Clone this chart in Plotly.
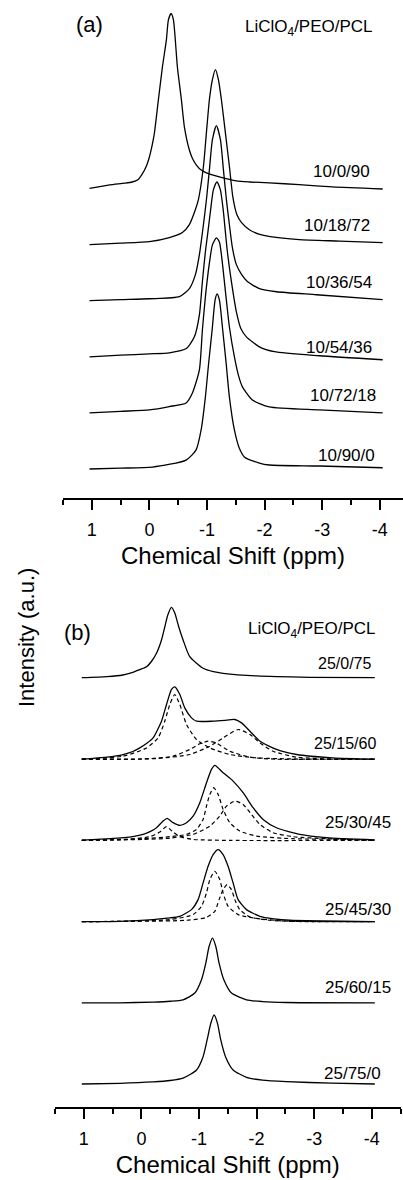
import plotly.graph_objects as go

# ---------------------------------------------------------------------------
# 7Li NMR spectra of LiClO4/PEO/PCL blends (intensity normalised per spectrum)
# ---------------------------------------------------------------------------

# Panel (a): LiClO4 content 10
labels_a = ["10/0/90", "10/18/72", "10/36/54", "10/54/36", "10/72/18", "10/90/0"]

ppm_10_0_90 = [1.04, 0.69, 0.43, 0.3, 0.2, 0.12, 0.05, 0.0, -0.05, -0.087, -0.156, -0.226,
               -0.295, -0.33, -0.377, -0.417, -0.486, -0.556, -0.608, -0.694, -0.75, -0.816,
               -0.9, -0.99, -1.215, -1.51, -1.74, -2.08, -2.6, -3.18, -4.05]
int_10_0_90 = [0.0, 0.02, 0.03, 0.037, 0.05, 0.085, 0.13, 0.18, 0.25, 0.317, 0.506, 0.694,
               0.849, 0.963, 1.0, 0.963, 0.694, 0.506, 0.351, 0.22, 0.17, 0.134,
               0.105, 0.089, 0.066, 0.043, 0.037, 0.032, 0.022, 0.009, -0.003]

ppm_10_18_72 = [1.04, 0.5, 0.0, -0.347, -0.573, -0.694, -0.799, -0.851, -0.938, -0.99, -1.042,
                -1.094, -1.146, -1.198, -1.25, -1.319, -1.389, -1.45, -1.52, -1.6, -1.736,
                -1.9, -2.1, -2.6, -3.3, -4.05]
int_10_18_72 = [0.0, 0.008, 0.017, 0.04, 0.069, 0.114, 0.2, 0.257, 0.446, 0.64, 0.829,
                0.943, 1.0, 0.943, 0.829, 0.64, 0.446, 0.27, 0.17, 0.125, 0.085,
                0.06, 0.045, 0.028, 0.02, 0.011]

ppm_10_36_54 = [1.04, 0.5, 0.0, -0.521, -0.694, -0.799, -0.868, -0.938, -0.99, -1.042, -1.094,
                -1.163, -1.233, -1.285, -1.337, -1.389, -1.441, -1.51, -1.6, -1.701, -1.91,
                -2.205, -2.9, -4.05]
int_10_36_54 = [0.0, 0.006, 0.011, 0.023, 0.069, 0.149, 0.263, 0.434, 0.577, 0.749, 0.92,
                1.0, 0.92, 0.749, 0.577, 0.434, 0.303, 0.206, 0.15, 0.109, 0.069,
                0.051, 0.034, 0.006]

ppm_10_54_36 = [1.04, 0.5, 0.0, -0.347, -0.642, -0.781, -0.868, -0.92, -0.972, -1.016, -1.059,
                -1.111, -1.172, -1.233, -1.285, -1.319, -1.354, -1.424, -1.51, -1.59, -1.684,
                -1.91, -2.17, -2.95, -4.05]
int_10_54_36 = [0.0, 0.009, 0.017, 0.023, 0.047, 0.114, 0.24, 0.429, 0.6, 0.714, 0.829,
                0.954, 1.0, 0.954, 0.829, 0.714, 0.6, 0.429, 0.257, 0.16, 0.114,
                0.057, 0.029, 0.006, -0.017]

ppm_10_72_18 = [1.04, 0.5, 0.0, -0.347, -0.637, -0.747, -0.868, -0.92, -0.972, -1.042, -1.094,
                -1.163, -1.215, -1.267, -1.33, -1.389, -1.476, -1.55, -1.615, -1.788, -2.08,
                -2.95, -4.05]
int_10_72_18 = [0.0, 0.009, 0.017, 0.036, 0.057, 0.114, 0.246, 0.474, 0.663, 0.857, 0.96,
                1.0, 0.977, 0.857, 0.663, 0.491, 0.32, 0.21, 0.149, 0.074, 0.034,
                0.017, 0.0]

ppm_10_90_0 = [1.04, 0.5, -0.052, -0.637, -0.811, -0.898, -0.972, -1.029, -1.089, -1.141,
               -1.175, -1.215, -1.273, -1.332, -1.389, -1.476, -1.56, -1.649, -1.91, -2.08,
               -2.95, -4.05]
int_10_90_0 = [0.0, 0.005, 0.011, 0.051, 0.109, 0.223, 0.411, 0.606, 0.794, 0.966,
               1.0, 0.966, 0.794, 0.606, 0.411, 0.223, 0.12, 0.069, 0.034, 0.023,
               0.017, 0.007]

# Panel (b): LiClO4 content 25, measured spectra
labels_b = ["25/0/75", "25/15/60", "25/30/45", "25/45/30", "25/60/15", "25/75/0"]

ppm_25_0_75 = [1.035, 0.6, 0.323, 0.15, 0.028, -0.089, -0.18, -0.262, -0.349, -0.406, -0.458,
               -0.523, -0.58, -0.649, -0.724, -0.84, -1.071, -1.25, -1.418, -1.998, -2.924,
               -4.052]
int_25_0_75 = [0.004, 0.02, 0.043, 0.08, 0.121, 0.161, 0.243, 0.353, 0.543, 0.729, 0.9,
               1.01, 0.929, 0.729, 0.543, 0.304, 0.139, 0.09, 0.067, 0.029, 0.01,
               0.004]

ppm_25_15_60 = [1.035, 0.6, 0.318, 0.15, 0.028, -0.1, -0.203, -0.349, -0.436, -0.523, -0.58,
                -0.667, -0.753, -0.87, -0.957, -1.245, -1.477, -1.622, -1.738, -1.885,
                -2.059, -2.345, -2.693, -3.323, -4.052]
int_25_15_60 = [0.0, 0.03, 0.067, 0.11, 0.161, 0.23, 0.304, 0.543, 0.781, 0.996, 1.033,
                0.924, 0.733, 0.59, 0.543, 0.543, 0.557, 0.567, 0.519, 0.4,
                0.257, 0.139, 0.067, 0.019, 0.0]

ppm_25_30_45 = [1.035, 0.549, 0.3, 0.15, -0.03, -0.15, -0.262, -0.377, -0.446, -0.55, -0.667,
                -0.783, -0.898, -1.014, -1.13, -1.217, -1.274, -1.419, -1.592, -1.766,
                -1.939, -2.113, -2.345, -2.75, -3.214, -4.052]
int_25_30_45 = [0.004, 0.024, 0.04, 0.055, 0.086, 0.125, 0.181, 0.276, 0.314, 0.253, 0.214,
                0.253, 0.347, 0.539, 0.824, 1.014, 1.071, 0.967, 0.847, 0.681,
                0.467, 0.3, 0.181, 0.086, 0.039, 0.007]

ppm_25_45_30 = [1.035, 0.375, -0.203, -0.45, -0.667, -0.87, -0.984, -1.071, -1.158, -1.245,
                -1.332, -1.418, -1.505, -1.592, -1.679, -1.825, -2.056, -2.3, -2.576, -4.052]
int_25_45_30 = [0.0, 0.004, 0.029, 0.05, 0.076, 0.171, 0.314, 0.553, 0.79, 0.957,
                1.029, 0.957, 0.79, 0.553, 0.314, 0.171, 0.076, 0.04, 0.019, 0.0]

ppm_25_60_15 = [1.035, 0.375, -0.203, -0.5, -0.724, -0.927, -1.043, -1.118, -1.175, -1.234,
                -1.292, -1.349, -1.431, -1.564, -1.825, -2.1, -2.519, -4.052]
int_25_60_15 = [0.0, 0.0, 0.01, 0.022, 0.043, 0.139, 0.329, 0.567, 0.804, 0.924,
                0.804, 0.567, 0.329, 0.139, 0.043, 0.018, 0.004, 0.0]

ppm_25_75_0 = [1.035, 0.375, -0.203, -0.5, -0.724, -0.957, -1.071, -1.141, -1.205, -1.262,
               -1.321, -1.378, -1.46, -1.592, -1.825, -2.1, -2.519, -3.3, -4.052]
int_25_75_0 = [0.0, 0.01, 0.03, 0.05, 0.085, 0.2, 0.39, 0.629, 0.867, 0.986,
               0.867, 0.629, 0.39, 0.2, 0.096, 0.055, 0.033, 0.012, 0.0]

# Panel (b): deconvoluted components (dashed)
ppm_fit_15_a = [1.035, 0.318, -0.089, -0.29, -0.406, -0.493, -0.58, -0.667, -0.783, -0.957,
                -1.188, -1.535, -1.998, -2.924, -4.052]
int_fit_15_a = [0.0, 0.043, 0.161, 0.304, 0.543, 0.781, 0.924, 0.781, 0.496, 0.281,
                0.161, 0.067, 0.019, 0.0, 0.0]
ppm_fit_15_b = [1.035, 0.028, -0.55, -0.84, -1.014, -1.158, -1.292, -1.535, -1.882, -2.345, -4.052]
int_fit_15_b = [0.0, 0.0, 0.043, 0.139, 0.221, 0.257, 0.236, 0.114, 0.029, 0.0, 0.0]
ppm_fit_15_c = [1.035, -0.262, -0.84, -1.188, -1.418, -1.679, -1.885, -2.059, -2.286, -2.693,
                -3.44, -4.052]
int_fit_15_c = [0.0, 0.01, 0.067, 0.186, 0.304, 0.424, 0.353, 0.233, 0.114, 0.029, 0.0, 0.0]

ppm_fit_30_a = [1.035, 0.259, -0.146, -0.319, -0.436, -0.55, -0.667, -0.898, -1.535, -4.052]
int_fit_30_a = [0.0, 0.014, 0.053, 0.119, 0.196, 0.119, 0.053, 0.014, 0.0, 0.0]
ppm_fit_30_b = [1.035, -0.03, -0.493, -0.783, -0.957, -1.071, -1.13, -1.188, -1.257, -1.332,
                -1.418, -1.535, -1.708, -1.998, -2.634, -3.502, -4.052]
int_fit_30_b = [0.0, 0.024, 0.053, 0.086, 0.157, 0.3, 0.49, 0.657, 0.753, 0.657,
                0.443, 0.253, 0.133, 0.061, 0.024, 0.014, 0.0]
ppm_fit_30_c = [1.035, -0.03, -0.493, -0.898, -1.188, -1.361, -1.477, -1.622, -1.766, -1.911,
                -2.056, -2.286, -2.634, -3.214, -4.052]
int_fit_30_c = [0.0, 0.014, 0.033, 0.086, 0.204, 0.347, 0.49, 0.561, 0.514, 0.371,
                0.229, 0.11, 0.053, 0.024, 0.0]

ppm_fit_45_a = [1.035, 0.375, -0.493, -0.898, -1.043, -1.13, -1.188, -1.274, -1.361, -1.418,
                -1.505, -1.679, -2.056, -2.576, -4.052]
int_fit_45_a = [0.0, 0.004, 0.029, 0.1, 0.219, 0.41, 0.6, 0.719, 0.6, 0.41,
                0.219, 0.1, 0.039, 0.004, 0.0]
ppm_fit_45_b = [1.035, -0.783, -1.13, -1.274, -1.349, -1.418, -1.488, -1.564, -1.622, -1.708,
                -1.882, -2.229, -2.576, -4.052]
int_fit_45_b = [0.0, 0.019, 0.061, 0.147, 0.314, 0.457, 0.529, 0.457, 0.314, 0.171,
                0.067, 0.019, 0.004, 0.0]

# Tick labels of the chemical-shift axis
tick_vals = [1, 0, -1, -2, -3, -4]
tick_text = ["1", "0", "-1", "-2", "-3", "-4"]
minor_vals = [1.5, 0.5, -0.5, -1.5, -2.5, -3.5, -4.5]

# ---------------------------------------------------------------------------
W, H = 403, 1180
FONT = "Liberation Sans, Arial, sans-serif"
STEP_A = 0.3206   # vertical stacking step of panel (a), in normalised intensity
STEP_B = 1.16     # vertical stacking step of panel (b)

spectra_a = [(ppm_10_0_90, int_10_0_90), (ppm_10_18_72, int_10_18_72),
             (ppm_10_36_54, int_10_36_54), (ppm_10_54_36, int_10_54_36),
             (ppm_10_72_18, int_10_72_18), (ppm_10_90_0, int_10_90_0)]
spectra_b = [(ppm_25_0_75, int_25_0_75), (ppm_25_15_60, int_25_15_60),
             (ppm_25_30_45, int_25_30_45), (ppm_25_45_30, int_25_45_30),
             (ppm_25_60_15, int_25_60_15), (ppm_25_75_0, int_25_75_0)]
# components, keyed by the index of the spectrum they belong to
fits_b = {1: [(ppm_fit_15_a, int_fit_15_a), (ppm_fit_15_b, int_fit_15_b), (ppm_fit_15_c, int_fit_15_c)],
          2: [(ppm_fit_30_a, int_fit_30_a), (ppm_fit_30_b, int_fit_30_b), (ppm_fit_30_c, int_fit_30_c)],
          3: [(ppm_fit_45_a, int_fit_45_a), (ppm_fit_45_b, int_fit_45_b)]}

fig = go.Figure()
solid = dict(color="black", width=1.3, shape="spline", smoothing=0.6)
dashed = dict(color="black", width=1.2, dash="4px,3px", shape="spline", smoothing=0.6)

n = len(labels_a)
for i, (px, iy) in enumerate(spectra_a):
    off = (n - 1 - i) * STEP_A
    fig.add_trace(go.Scatter(x=px, y=[v + off for v in iy], mode="lines", line=solid,
                             xaxis="x", yaxis="y", name=labels_a[i], showlegend=False,
                             hoverinfo="skip"))

n = len(labels_b)
for i, (px, iy) in enumerate(spectra_b):
    off = (n - 1 - i) * STEP_B
    for fx, fy in fits_b.get(i, []):
        fig.add_trace(go.Scatter(x=fx, y=[v + off for v in fy], mode="lines", line=dashed,
                                 xaxis="x2", yaxis="y2", showlegend=False, hoverinfo="skip"))
    fig.add_trace(go.Scatter(x=px, y=[v + off for v in iy], mode="lines", line=solid,
                             xaxis="x2", yaxis="y2", name=labels_b[i], showlegend=False,
                             hoverinfo="skip"))


def shift_axis(domain, rng, anchor):
    return dict(domain=domain, range=rng, anchor=anchor, showline=True, linecolor="black",
                linewidth=2, ticks="outside", ticklen=10, tickwidth=2, tickcolor="black",
                tickvals=tick_vals, ticktext=tick_text, showgrid=False, zeroline=False,
                tickfont=dict(family=FONT, size=18, color="black"), ticklabelstandoff=4,
                minor=dict(tickvals=minor_vals, ticks="outside", ticklen=5, tickwidth=2,
                           tickcolor="black", showgrid=False),
                title=dict(text="Chemical Shift (ppm)", standoff=9,
                           font=dict(family=FONT, size=24, color="black")))


hidden = dict(visible=False, showgrid=False, zeroline=False)

fig.update_layout(
    width=W, height=H, margin=dict(l=0, r=0, t=0, b=0),
    paper_bgcolor="white", plot_bgcolor="white",
    xaxis=shift_axis([63 / W, 1.0], [1.5, -4.403], "y"),
    yaxis=dict(domain=[1 - 498 / H, 1.0], range=[-29 / 175, 469 / 175], **hidden),
    xaxis2=shift_axis([55 / W, 400.6 / W], [1.5, -4.5], "y2"),
    yaxis2=dict(domain=[1 - 1107 / H, 1 - 590 / H], range=[-23 / 70, 494 / 70], **hidden),
)

# spectrum labels: (right edge ppm, height above baseline, font size)
lab_pos_a = [(-3.872, 0.097, 17), (-3.872, 0.109, 17), (-3.906, 0.103, 17),
             (-3.906, 0.051, 17), (-3.976, 0.097, 17), (-3.958, 0.08, 17)]
lab_pos_b = [(-4.017, 0.214, 16), (-4.104, 0.229, 16), (-4.365, 0.257, 17),
             (-4.365, 0.171, 17), (-4.365, 0.214, 17), (-4.191, 0.157, 17)]

ann = []
for i, (lx, dy, fs) in enumerate(lab_pos_a):
    ann.append(dict(x=lx, y=(5 - i) * STEP_A + dy, xref="x", yref="y", text=labels_a[i],
                    showarrow=False, xanchor="right", yanchor="middle",
                    font=dict(family=FONT, size=fs, color="black")))
for i, (lx, dy, fs) in enumerate(lab_pos_b):
    ann.append(dict(x=lx, y=(5 - i) * STEP_B + dy, xref="x2", yref="y2", text=labels_b[i],
                    showarrow=False, xanchor="right", yanchor="middle",
                    font=dict(family=FONT, size=fs, color="black")))

txt = dict(showarrow=False, xref="paper", yref="paper")
ann += [
    dict(x=89 / W, y=1 - 25 / H, text="(a)", xanchor="center", yanchor="middle",
         font=dict(family=FONT, size=22, color="black"), **txt),
    dict(x=77.5 / W, y=1 - 632 / H, text="(b)", xanchor="center", yanchor="middle",
         font=dict(family=FONT, size=22, color="black"), **txt),
    dict(x=375 / W, y=1 - 28 / H, text="LiClO<sub>4</sub>/PEO/PCL", xanchor="right",
         yanchor="middle", font=dict(family=FONT, size=17, color="black"), **txt),
    dict(x=378 / W, y=1 - 630 / H, text="LiClO<sub>4</sub>/PEO/PCL", xanchor="right",
         yanchor="middle", font=dict(family=FONT, size=17, color="black"), **txt),
    dict(x=26 / W, y=1 - 638 / H, text="Intensity (a.u.)", textangle=-90, xanchor="center",
         yanchor="middle", font=dict(family=FONT, size=22, color="black"), **txt),
]
fig.update_layout(annotations=ann)

fig.write_html("out.html")
